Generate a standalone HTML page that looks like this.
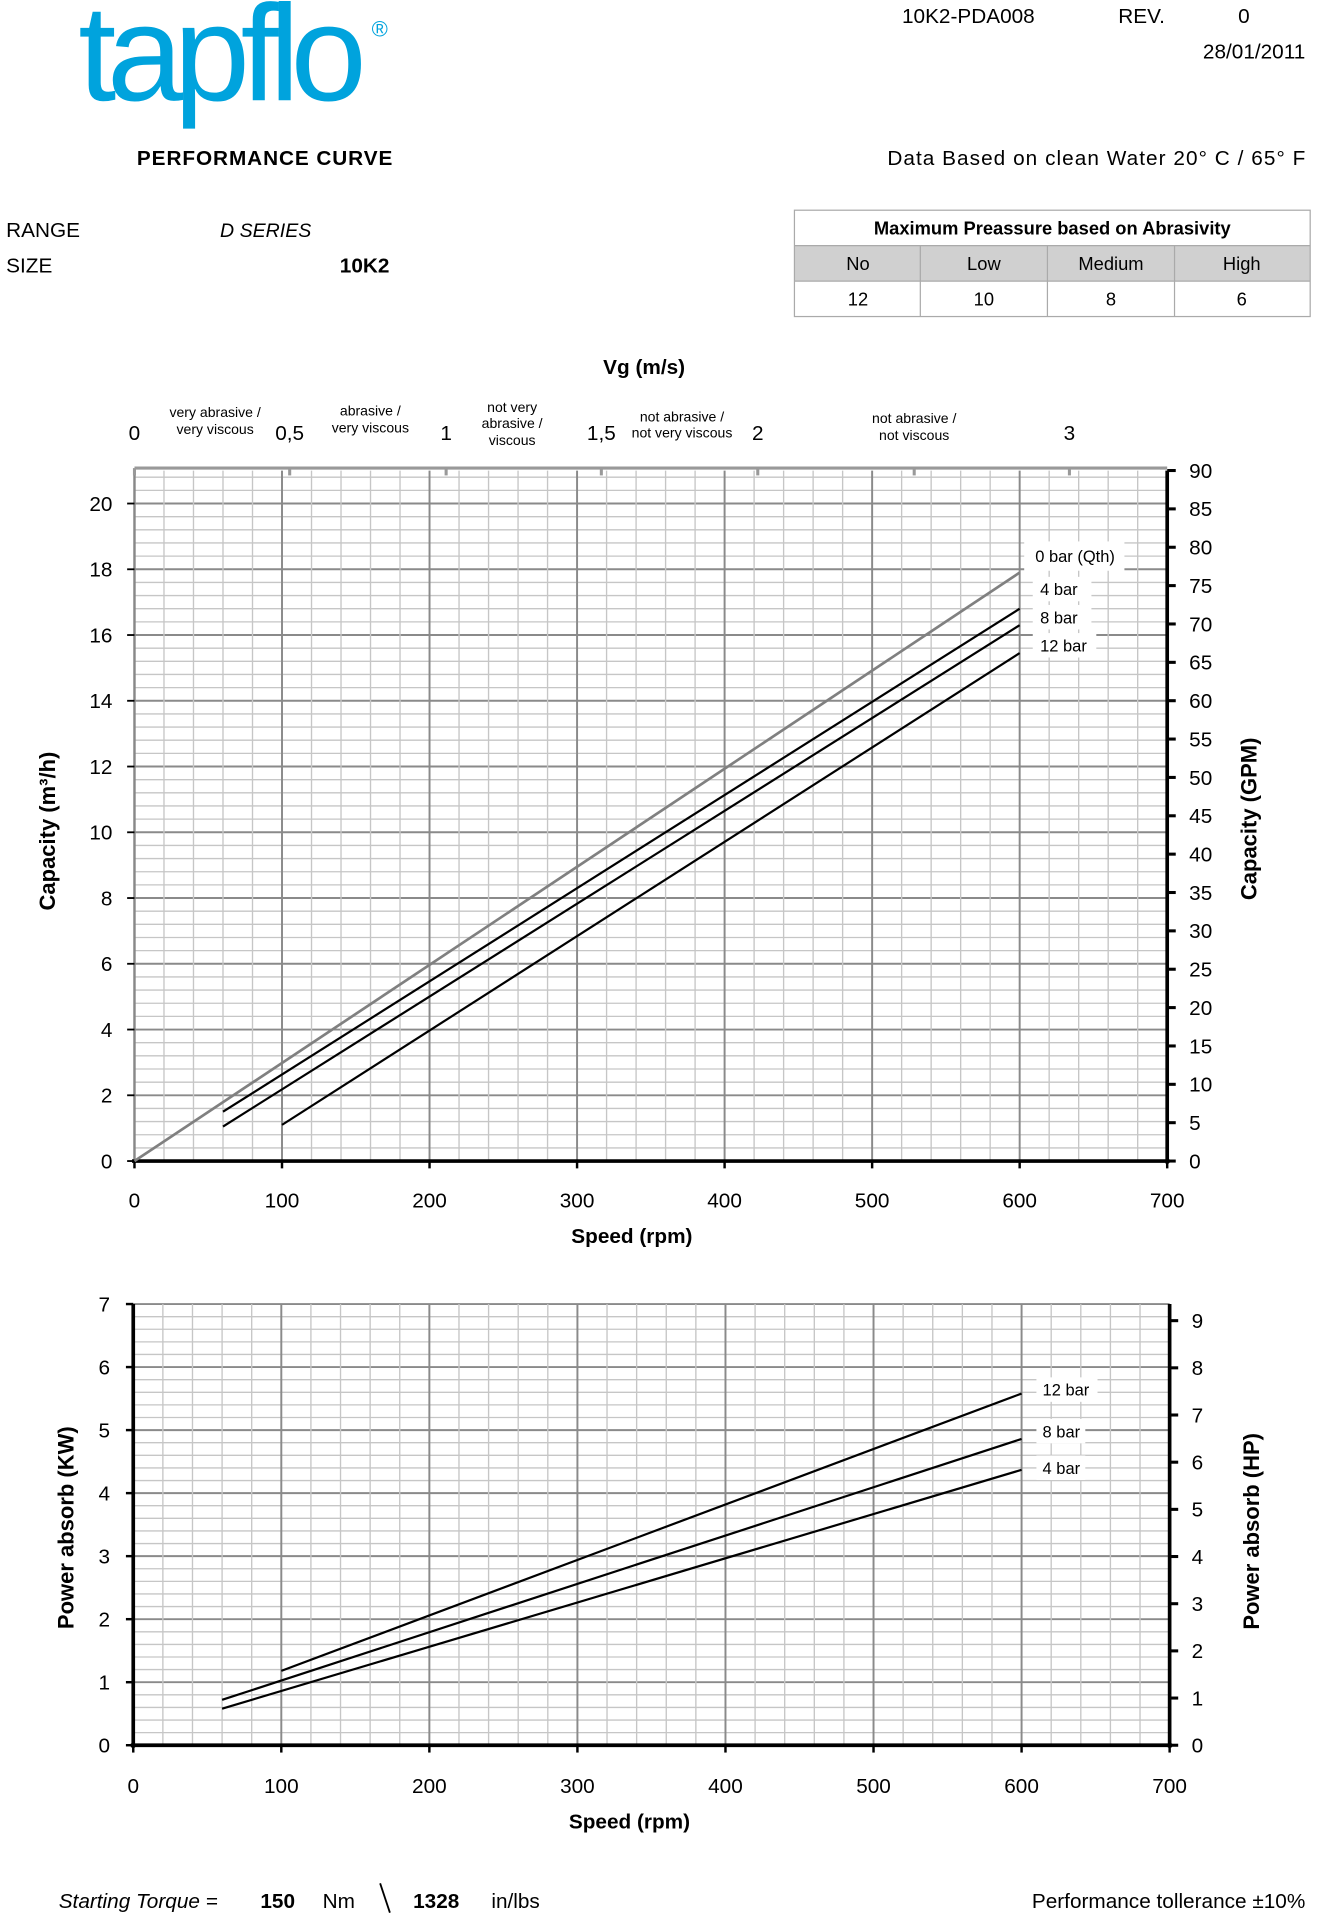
<!DOCTYPE html>
<html><head><meta charset="utf-8">
<style>
html,body{margin:0;padding:0;background:#fff;}
svg{display:block;}
text{font-family:"Liberation Sans",sans-serif;}
</style></head>
<body>
<svg id="s" width="1320" height="1920" viewBox="0 0 1080 1571" xmlns="http://www.w3.org/2000/svg">
<rect width="1080" height="1571" fill="#fff"/>
<g id="g1"></g>
<g id="g2"></g>
<!-- logo -->
<text x="64" y="82" font-size="112" fill="#00a3dd" textLength="236" lengthAdjust="spacing">tapflo</text>
<text x="304" y="30" font-size="18" fill="#00a3dd">®</text>
<text x="738" y="19" font-size="17">10K2-PDA008</text>
<text x="915" y="19" font-size="17">REV.</text>
<text x="1013" y="19" font-size="17">0</text>
<text x="1068" y="48" font-size="17" text-anchor="end">28/01/2011</text>
<text x="112" y="135" font-size="17" font-weight="bold" textLength="209">PERFORMANCE CURVE</text>
<text x="726" y="135" font-size="17" textLength="342" lengthAdjust="spacing">Data Based on clean Water 20° C  /  65° F</text>
<text x="5" y="194" font-size="17">RANGE</text>
<text x="180" y="194" font-size="16" font-style="italic">D SERIES</text>
<text x="5" y="223" font-size="17">SIZE</text>
<text x="278" y="223" font-size="17" font-weight="bold">10K2</text>
<!-- table -->
<rect x="650" y="201" width="422" height="29" fill="#d0d0d0"/>
<g stroke="#aaa" stroke-width="1" fill="none">
<rect x="650" y="172" width="422" height="87"/>
<line x1="650" y1="201" x2="1072" y2="201"/>
<line x1="650" y1="230" x2="1072" y2="230"/>
<line x1="753" y1="201" x2="753" y2="259"/>
<line x1="857" y1="201" x2="857" y2="259"/>
<line x1="961" y1="201" x2="961" y2="259"/>
</g>
<text x="861" y="192" font-size="15" font-weight="bold" text-anchor="middle">Maximum Preassure based on Abrasivity</text>
<g font-size="15" text-anchor="middle">
<text x="702" y="221">No</text><text x="805" y="221">Low</text><text x="909" y="221">Medium</text><text x="1016" y="221">High</text>
<text x="702" y="250">12</text><text x="805" y="250">10</text><text x="909" y="250">8</text><text x="1016" y="250">6</text>
</g>
<!-- top Vg axis -->
<text x="527" y="306" font-size="17" font-weight="bold" text-anchor="middle">Vg (m/s)</text>
<g font-size="17" text-anchor="middle">
<text x="110" y="360">0</text><text x="237" y="360">0,5</text><text x="365" y="360">1</text><text x="492" y="360">1,5</text><text x="620" y="360">2</text><text x="875" y="360">3</text>
</g>
<g font-size="11.5" text-anchor="middle">
<text x="176" y="341">very abrasive /</text><text x="176" y="355">very viscous</text>
<text x="303" y="340">abrasive /</text><text x="303" y="354">very viscous</text>
<text x="419" y="337">not very</text><text x="419" y="350">abrasive /</text><text x="419" y="364">viscous</text>
<text x="558" y="345">not  abrasive /</text><text x="558" y="358">not very viscous</text>
<text x="748" y="346">not  abrasive /</text><text x="748" y="360">not  viscous</text>
</g>
<line x1="110" y1="383" x2="955" y2="383" stroke="#999" stroke-width="2.5"/>
<g stroke="#999" stroke-width="2.5">
<line x1="110" y1="383" x2="110" y2="389"/><line x1="237" y1="383" x2="237" y2="389"/><line x1="365" y1="383" x2="365" y2="389"/><line x1="492" y1="383" x2="492" y2="389"/><line x1="620" y1="383" x2="620" y2="389"/><line x1="748" y1="383" x2="748" y2="389"/><line x1="875" y1="383" x2="875" y2="389"/>
</g>
<text transform="translate(45,680) rotate(-90)" font-size="18" font-weight="bold" text-anchor="middle">Capacity (m³/h)</text>
<text transform="translate(1028,670) rotate(-90)" font-size="18" font-weight="bold" text-anchor="middle">Capacity (GPM)</text>
<text x="517" y="1017" font-size="17" font-weight="bold" text-anchor="middle">Speed (rpm)</text>
<text transform="translate(60,1250) rotate(-90)" font-size="18" font-weight="bold" text-anchor="middle">Power absorb (KW)</text>
<text transform="translate(1030,1253) rotate(-90)" font-size="18" font-weight="bold" text-anchor="middle">Power absorb (HP)</text>
<text x="515" y="1496" font-size="17" font-weight="bold" text-anchor="middle">Speed (rpm)</text>
<!-- footer -->
<text x="48" y="1561" font-size="17" font-style="italic">Starting Torque =</text>
<text x="213" y="1561" font-size="17" font-weight="bold">150</text>
<text x="264" y="1561" font-size="17">Nm</text>
<line x1="311" y1="1541" x2="319" y2="1565" stroke="#000" stroke-width="1.5"/>
<text x="338" y="1561" font-size="17" font-weight="bold">1328</text>
<text x="402" y="1561" font-size="17">in/lbs</text>
<text x="1068" y="1561" font-size="17" text-anchor="end">Performance tollerance ±10%</text>
</svg>
<script>
var NS="http://www.w3.org/2000/svg";
function el(g,t,a,txt){var e=document.createElementNS(NS,t);for(var k in a)e.setAttribute(k,a[k]);if(txt!==undefined)e.textContent=txt;g.appendChild(e);return e;}
function L(g,x1,y1,x2,y2,c,w){el(g,"line",{x1:x1,y1:y1,x2:x2,y2:y2,stroke:c,"stroke-width":w});}
// chart 1
var g=document.getElementById("g1");
var X=function(r){return 110+r*845/700;}, Y=function(q){return 950-q*26.9;};
var top1=Y(21);
for(var q=0;q<=21.001;q+=0.4){var major=Math.abs(q/2-Math.round(q/2))<0.01;L(g,110,Y(q),955,Y(q),major?"#8a8a8a":"#c6c6c6",major?1.6:1.1);}
for(var r=0;r<=700;r+=20){var m=r%100==0;L(g,X(r),top1,X(r),950,m?"#8a8a8a":"#c6c6c6",m?1.6:1.1);}
L(g,110,top1,110,950,"#888",2);
L(g,108,950,957,950,"#000",3);
L(g,955,top1,955,952,"#000",3);
for(var q=0;q<=20;q+=2){L(g,104,Y(q),110,Y(q),"#000",1.5);el(g,"text",{x:92,y:Y(q)+6,"font-size":17,"text-anchor":"end"},q);}
for(var r=0;r<=700;r+=100){L(g,X(r),950,X(r),956,"#000",2);el(g,"text",{x:X(r),y:988,"font-size":17,"text-anchor":"middle"},r);}
for(var gp=0;gp<=90;gp+=5){var y=950-gp*565/90;L(g,955,y,962,y,"#000",2.5);el(g,"text",{x:973,y:y+6,"font-size":17},gp);}
L(g,X(0),Y(0),X(600),Y(17.9),"#808080",2.2);
L(g,X(60),Y(1.5),X(600),Y(16.8),"#000",1.8);
L(g,X(60),Y(1.05),X(600),Y(16.3),"#000",1.8);
L(g,X(100),Y(1.1),X(600),Y(15.45),"#000",1.8);
el(g,"rect",{x:838,y:443,width:82,height:24,fill:"#fff"});
el(g,"rect",{x:845,y:472,width:48,height:20,fill:"#fff"});
el(g,"rect",{x:845,y:495,width:48,height:20,fill:"#fff"});
el(g,"rect",{x:845,y:518,width:52,height:20,fill:"#fff"});
el(g,"text",{x:847,y:460,"font-size":13.5},"0 bar (Qth)");
el(g,"text",{x:851,y:487,"font-size":13.5},"4 bar");
el(g,"text",{x:851,y:510,"font-size":13.5},"8 bar");
el(g,"text",{x:851,y:533,"font-size":13.5},"12 bar");
// chart 2
g=document.getElementById("g2");
var X2=function(r){return 109+r*848/700;}, Y2=function(p){return 1428-p*51.57;};
for(var i=0;i<=35;i++){var p=i*0.2;var m=i%5==0;L(g,109,Y2(p),957,Y2(p),m?"#8a8a8a":"#c6c6c6",m?1.6:1.1);}
for(var r=0;r<=700;r+=20){var m=r%100==0;L(g,X2(r),Y2(7),X2(r),1428,m?"#8a8a8a":"#c6c6c6",m?1.6:1.1);}
L(g,109,Y2(7),109,1430,"#000",3);
L(g,107,1428,959,1428,"#000",3);
L(g,957,Y2(7),957,1430,"#000",3);
for(var p=0;p<=7;p++){L(g,103,Y2(p),109,Y2(p),"#000",2);el(g,"text",{x:90,y:Y2(p)+6,"font-size":17,"text-anchor":"end"},p);}
for(var r=0;r<=700;r+=100){L(g,X2(r),1428,X2(r),1434,"#000",2);el(g,"text",{x:X2(r),y:1467,"font-size":17,"text-anchor":"middle"},r);}
for(var h=0;h<=9;h++){var y=1428-h*38.6;L(g,957,y,964,y,"#000",2.5);el(g,"text",{x:975,y:y+6,"font-size":17},h);}
L(g,X2(100),Y2(1.18),X2(600),Y2(5.58),"#000",1.8);
L(g,X2(60),Y2(0.72),X2(600),Y2(4.86),"#000",1.8);
L(g,X2(60),Y2(0.58),X2(600),Y2(4.37),"#000",1.8);
el(g,"rect",{x:848,y:1127,width:50,height:20,fill:"#fff"});
el(g,"rect",{x:848,y:1161,width:40,height:20,fill:"#fff"});
el(g,"rect",{x:848,y:1191,width:40,height:20,fill:"#fff"});
el(g,"text",{x:853,y:1142,"font-size":13.5},"12 bar");
el(g,"text",{x:853,y:1176,"font-size":13.5},"8 bar");
el(g,"text",{x:853,y:1206,"font-size":13.5},"4 bar");
</script>
</body></html>
